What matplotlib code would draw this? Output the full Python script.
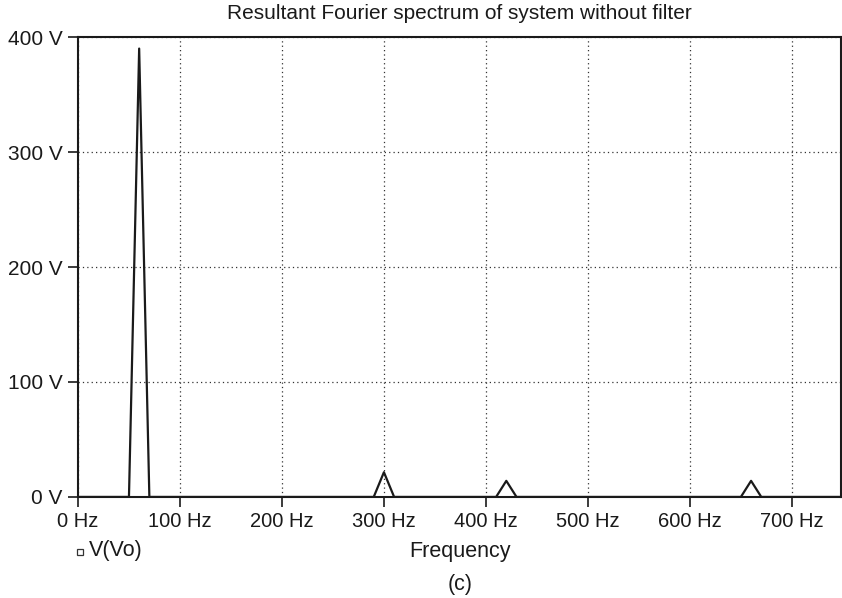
import matplotlib
matplotlib.use("Agg")
import matplotlib.pyplot as plt
from matplotlib.lines import Line2D

# spectrum vertices (Hz, V)
freq = [0, 50, 60, 70, 290, 300, 310, 410, 420, 430, 650, 660, 670, 750]
volt = [0, 0, 390, 0, 0, 21.5, 0, 0, 14, 0, 0, 14, 0, 0]

xticks = [0, 100, 200, 300, 400, 500, 600, 700]
yticks = [0, 100, 200, 300, 400]

plt.rcParams['font.family'] = ['Liberation Sans', 'DejaVu Sans']

fig = plt.figure(figsize=(8.42, 5.98), dpi=100)
ax = fig.add_axes([0.0926, 0.169, 0.906, 0.769])

ax.plot(freq, volt, color='#1a1a1a', lw=1.6)

ax.set_xlim(0, 748)
ax.set_ylim(0, 400)
ax.set_xticks(xticks)
ax.set_xticklabels(['%d Hz' % v for v in xticks])
ax.set_yticks(yticks)
ax.set_yticklabels(['%d V' % v for v in yticks])
ax.tick_params(direction='out', length=7, width=1.2, colors='#1a1a1a', pad=4)
ax.tick_params(axis='x', labelsize=14.5)
ax.tick_params(axis='y', labelsize=15)
ax.grid(True, linestyle=(0, (1, 2.5)), color='#333333', lw=0.9)
for s in ax.spines.values():
    s.set_linewidth(1.5)
    s.set_color('#1a1a1a')

fig.text(0.546, 0.977, 'Resultant Fourier spectrum of system without filter',
         ha='center', va='center', fontsize=15, color='#1a1a1a')
fig.text(0.546, 0.077, 'Frequency', ha='center', va='center', fontsize=15.5, color='#1a1a1a')
fig.text(0.546, 0.022, '(c)', ha='center', va='center', fontsize=15.5, color='#1a1a1a')

# legend entry
fig.add_artist(Line2D([0.095], [0.077], marker='s', ms=5, mfc='white', mec='#333333',
                      mew=0.9, ls='none', transform=fig.transFigure))
fig.text(0.106, 0.079, 'V(Vo)', ha='left', va='center', fontsize=15.5, color='#1a1a1a')

fig.savefig('out.png', dpi=100)
